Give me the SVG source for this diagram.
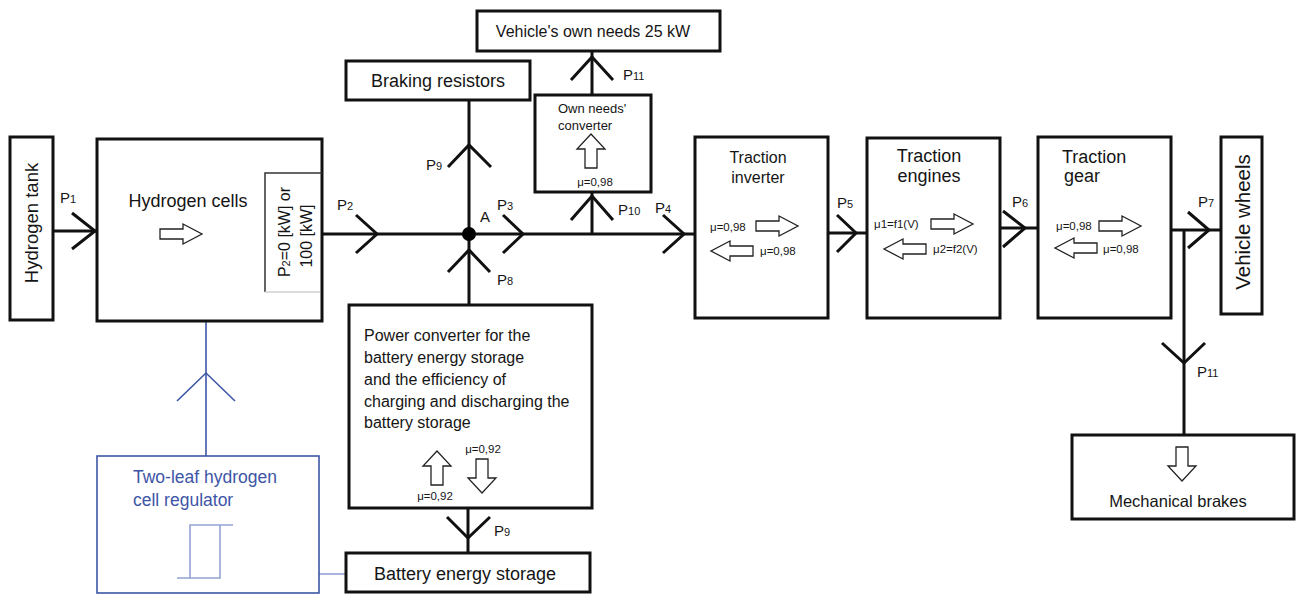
<svg xmlns="http://www.w3.org/2000/svg" width="1296" height="594" viewBox="0 0 1296 594">
<style>
.box{fill:#fff;stroke:#111;stroke-width:3}
.ln{fill:none;stroke:#111;stroke-width:3}
.chev{fill:none;stroke:#111;stroke-width:3;stroke-linejoin:miter}
.blue{fill:none;stroke:#3d55a6;stroke-width:1.6}
.lblue{fill:none;stroke:#94a3d4;stroke-width:1.6}
.t{font-family:"Liberation Sans",Arial,sans-serif;fill:#151515}
.tb{font-family:"Liberation Sans",Arial,sans-serif;fill:#3d55a6}
.p{font-family:"Liberation Sans",Arial,sans-serif;fill:#151515;font-size:15px}
.s{font-size:11px}
.mu{font-family:"Liberation Sans",Arial,sans-serif;fill:#151515;font-size:11.5px}
.ha{fill:#fff;stroke:#222;stroke-width:1.3}
</style>
<defs>
<path id="harr" d="M-21,-5 H2 V-10 L21,0 L2,10 V5 H-21 Z"/>
<path id="varr" d="M-6,17 V-2 H-14 L0,-17 L14,-2 H6 V17 Z"/>
</defs>

<g id="connectors">
<line class="ln" x1="53" y1="231" x2="97" y2="231"/>
<polyline class="chev" points="72,213 95,231 72,249"/>
<line class="ln" x1="322" y1="234" x2="695" y2="234"/>
<polyline class="chev" points="356,215 377,234 356,253"/>
<polyline class="chev" points="503,215 523,234 503,253"/>
<polyline class="chev" points="663,215 684,234 663,253"/>
<line class="ln" x1="469" y1="100" x2="469" y2="305"/>
<polyline class="chev" points="448,167 469,145 491,167"/>
<polyline class="chev" points="448,272 469,250 490,272"/>
<circle cx="469" cy="234" r="7" fill="#000"/>
<line class="ln" x1="592" y1="51" x2="592" y2="95"/>
<polyline class="chev" points="571,80 592,57 613,80"/>
<line class="ln" x1="592" y1="192" x2="592" y2="234"/>
<polyline class="chev" points="571,220 592,196 613,220"/>
<line class="ln" x1="828" y1="233" x2="867" y2="233"/>
<polyline class="chev" points="837,215 856,233 837,252"/>
<line class="ln" x1="1000" y1="228" x2="1038" y2="228"/>
<polyline class="chev" points="1003,211 1025,228 1003,247"/>
<line class="ln" x1="1171" y1="230" x2="1221" y2="230"/>
<polyline class="chev" points="1188,212 1209,230 1188,248"/>
<line class="ln" x1="1184" y1="230" x2="1184" y2="435"/>
<polyline class="chev" points="1162,343 1184,363 1205,343"/>
<line class="ln" x1="468" y1="508" x2="468" y2="553"/>
<polyline class="chev" points="447,517 468,538 490,517"/>
<line class="blue" x1="206" y1="321" x2="206" y2="456"/>
<polyline class="blue" points="177,401 206,373 235,401"/>
<line class="lblue" x1="319" y1="574" x2="346" y2="574"/>
</g>

<g id="labels">
<text class="p" x="60" y="203">P<tspan class="s">1</tspan></text>
<text class="p" x="337" y="210">P<tspan class="s">2</tspan></text>
<text class="p" x="426" y="170">P<tspan class="s">9</tspan></text>
<text class="p" x="480" y="222">A</text>
<text class="p" x="497" y="210">P<tspan class="s">3</tspan></text>
<text class="p" x="497" y="285">P<tspan class="s">8</tspan></text>
<text class="p" x="623" y="80">P<tspan class="s">11</tspan></text>
<text class="p" x="618" y="215">P<tspan class="s">10</tspan></text>
<text class="p" x="655" y="213">P<tspan class="s">4</tspan></text>
<text class="p" x="837" y="208">P<tspan class="s">5</tspan></text>
<text class="p" x="1012" y="207">P<tspan class="s">6</tspan></text>
<text class="p" x="1198" y="207">P<tspan class="s">7</tspan></text>
<text class="p" x="1197" y="377">P<tspan class="s">11</tspan></text>
<text class="p" x="494" y="536">P<tspan class="s">9</tspan></text>
</g>

<g id="hydrogen-tank">
<rect class="box" x="10" y="137" width="43" height="183"/>
<text class="t" font-size="18.5" text-anchor="middle" transform="translate(38,223) rotate(-90)">Hydrogen tank</text>
</g>

<g id="hydrogen-cells">
<rect class="box" x="97" y="139" width="225" height="182"/>
<text class="t" font-size="18" text-anchor="middle" x="188" y="207">Hydrogen cells</text>
<use href="#harr" class="ha" transform="translate(181,234)"/>
<polyline points="265,292 265,173 322,173" fill="none" stroke="#333" stroke-width="1.5"/>
<line x1="265" y1="292" x2="320" y2="292" stroke="#d0d0d0" stroke-width="1.5"/>
<text class="t" font-size="16" text-anchor="middle" transform="translate(290,232) rotate(-90)">P<tspan font-size="11">2</tspan>=0 [kW] or</text>
<text class="t" font-size="16" text-anchor="middle" transform="translate(312,236) rotate(-90)">100 [kW]</text>
</g>

<g id="braking-resistors">
<rect class="box" x="346" y="61" width="184" height="39"/>
<text class="t" font-size="18" text-anchor="middle" x="438" y="87">Braking resistors</text>
</g>

<g id="vehicle-own-needs">
<rect class="box" x="477" y="11" width="243" height="40"/>
<text class="t" font-size="16" text-anchor="middle" x="593" y="37">Vehicle's own needs 25 kW</text>
</g>

<g id="own-needs-converter">
<rect class="box" x="535" y="95" width="116" height="97"/>
<text class="t" font-size="13" x="558" y="113">Own needs'</text>
<text class="t" font-size="13" x="558" y="130">converter</text>
<use href="#varr" class="ha" transform="translate(591,151)"/>
<text class="mu" text-anchor="middle" x="595" y="186">μ=0,98</text>
</g>

<g id="traction-inverter">
<rect class="box" x="695" y="137" width="133" height="181"/>
<text class="t" font-size="16" text-anchor="middle" x="758" y="163">Traction</text>
<text class="t" font-size="16" text-anchor="middle" x="758" y="183">inverter</text>
<text class="mu" x="710" y="231">μ=0,98</text>
<use href="#harr" class="ha" transform="translate(777,226)"/>
<use href="#harr" class="ha" transform="translate(732,251) rotate(180)"/>
<text class="mu" x="760" y="255">μ=0,98</text>
</g>

<g id="traction-engines">
<rect class="box" x="867" y="138" width="133" height="180"/>
<text class="t" font-size="18" text-anchor="middle" x="929" y="162">Traction</text>
<text class="t" font-size="18" text-anchor="middle" x="929" y="182">engines</text>
<text class="mu" x="874" y="228">μ1=f1(V)</text>
<use href="#harr" class="ha" transform="translate(952,224)"/>
<use href="#harr" class="ha" transform="translate(905,249) rotate(180)"/>
<text class="mu" x="933" y="253">μ2=f2(V)</text>
</g>

<g id="traction-gear">
<rect class="box" x="1038" y="137" width="133" height="181"/>
<text class="t" font-size="18" x="1062" y="163">Traction</text>
<text class="t" font-size="18" x="1064" y="182">gear</text>
<text class="mu" x="1056" y="230">μ=0,98</text>
<use href="#harr" class="ha" transform="translate(1120,226)"/>
<use href="#harr" class="ha" transform="translate(1076,248) rotate(180)"/>
<text class="mu" x="1103" y="253">μ=0,98</text>
</g>

<g id="vehicle-wheels">
<rect class="box" x="1221" y="137" width="41" height="177"/>
<text class="t" font-size="20.5" text-anchor="middle" transform="translate(1250,222) rotate(-90)">Vehicle wheels</text>
</g>

<g id="mechanical-brakes">
<rect class="box" x="1072" y="435" width="222" height="84"/>
<use href="#varr" class="ha" transform="translate(1182,464) rotate(180)"/>
<text class="t" font-size="16.5" text-anchor="middle" x="1178" y="507">Mechanical brakes</text>
</g>

<g id="power-converter">
<rect class="box" x="349" y="305" width="243" height="203"/>
<text class="t" font-size="16" x="364" y="341">Power converter for the</text>
<text class="t" font-size="16" x="364" y="363">battery energy storage</text>
<text class="t" font-size="16" x="364" y="385">and the efficiency of</text>
<text class="t" font-size="16" x="364" y="407">charging and discharging the</text>
<text class="t" font-size="16" x="364" y="428">battery storage</text>
<use href="#varr" class="ha" transform="translate(437,468)"/>
<text class="mu" text-anchor="middle" x="435" y="500">μ=0,92</text>
<use href="#varr" class="ha" transform="translate(482,476) rotate(180)"/>
<text class="mu" text-anchor="middle" x="483" y="453">μ=0,92</text>
</g>

<g id="battery-energy-storage">
<rect class="box" x="346" y="553" width="244" height="39"/>
<text class="t" font-size="18" text-anchor="middle" x="465" y="580">Battery energy storage</text>
</g>

<g id="hydrogen-cell-regulator">
<rect x="97" y="456" width="222" height="137" fill="#fff" stroke="#3d55a6" stroke-width="1.6"/>
<text class="tb" font-size="17.5" x="133" y="483">Two-leaf hydrogen</text>
<text class="tb" font-size="17.5" x="133" y="506">cell regulator</text>
<polyline class="lblue" points="177,578 220,578 220,525"/>
<polyline class="lblue" points="190,578 190,525 233,525"/>
</g>
</svg>
